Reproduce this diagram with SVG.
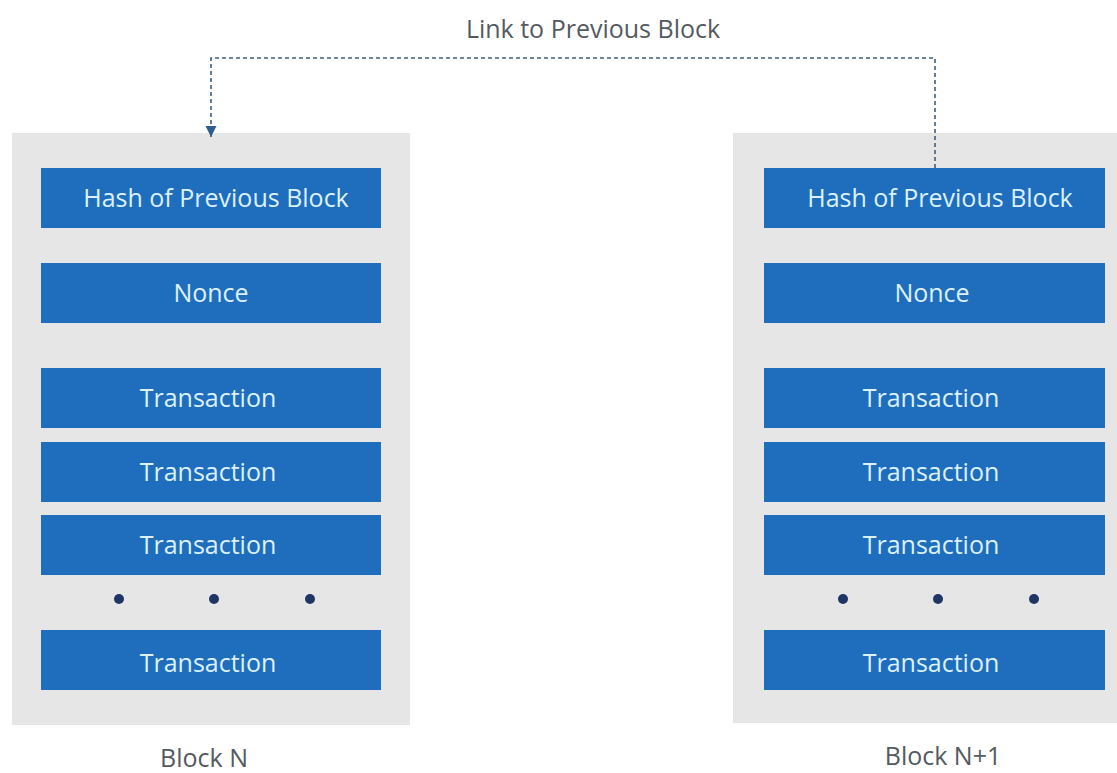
<svg xmlns="http://www.w3.org/2000/svg" width="1117" height="773" viewBox="0 0 1117 773">
  <style>
    .panel { fill: #e6e6e7; }
    .field { fill: #1f6ebd; }
    .field-label { font-family: "Open Sans", "Noto Sans", sans-serif; font-size: 25px; fill: #dcf1fb; text-anchor: middle; }
    .caption { font-family: "Open Sans", "Noto Sans", sans-serif; font-size: 25px; fill: #555a60; text-anchor: middle; }
    .dot { fill: #1e3565; }
    .link { fill: none; stroke: #3d5f80; stroke-width: 1.6; stroke-dasharray: 4 3; }
  </style>
  <defs>
    <marker id="arrow" viewBox="0 0 10 10" refX="10" refY="5" markerWidth="11" markerHeight="11" markerUnits="userSpaceOnUse" orient="auto">
      <path d="M0,0 L10,5 L0,10 Z" fill="#2c5f8f"/>
    </marker>
  </defs>
  <rect width="1117" height="773" fill="#ffffff"/>

  <!-- Block N -->
  <g id="block-n">
    <rect class="panel" x="12" y="133" width="398" height="592"/>
    <g id="block-n-hash"><rect class="field" x="41" y="168" width="340" height="60"/><text class="field-label" x="216" y="207">Hash of Previous Block</text></g>
    <g id="block-n-nonce"><rect class="field" x="41" y="263" width="340" height="60"/><text class="field-label" x="211" y="302">Nonce</text></g>
    <g id="block-n-tx1"><rect class="field" x="41" y="368" width="340" height="60"/><text class="field-label" x="208" y="407">Transaction</text></g>
    <g id="block-n-tx2"><rect class="field" x="41" y="442" width="340" height="60"/><text class="field-label" x="208" y="481">Transaction</text></g>
    <g id="block-n-tx3"><rect class="field" x="41" y="515" width="340" height="60"/><text class="field-label" x="208" y="554">Transaction</text></g>
    <circle class="dot" cx="119" cy="599" r="5"/>
    <circle class="dot" cx="214" cy="599" r="5"/>
    <circle class="dot" cx="310" cy="599" r="5"/>
    <g id="block-n-txn"><rect class="field" x="41" y="630" width="340" height="60"/><text class="field-label" x="208" y="672">Transaction</text></g>
    <text class="caption" x="204" y="767">Block N</text>
  </g>

  <!-- Block N+1 -->
  <g id="block-n1">
    <rect class="panel" x="733" y="133" width="384" height="590"/>
    <g id="block-n1-hash"><rect class="field" x="764" y="168" width="341" height="60"/><text class="field-label" x="940" y="207">Hash of Previous Block</text></g>
    <g id="block-n1-nonce"><rect class="field" x="764" y="263" width="341" height="60"/><text class="field-label" x="932" y="302">Nonce</text></g>
    <g id="block-n1-tx1"><rect class="field" x="764" y="368" width="341" height="60"/><text class="field-label" x="931" y="407">Transaction</text></g>
    <g id="block-n1-tx2"><rect class="field" x="764" y="442" width="341" height="60"/><text class="field-label" x="931" y="481">Transaction</text></g>
    <g id="block-n1-tx3"><rect class="field" x="764" y="515" width="341" height="60"/><text class="field-label" x="931" y="554">Transaction</text></g>
    <circle class="dot" cx="843" cy="599" r="5"/>
    <circle class="dot" cx="938" cy="599" r="5"/>
    <circle class="dot" cx="1034" cy="599" r="5"/>
    <g id="block-n1-txn"><rect class="field" x="764" y="630" width="341" height="60"/><text class="field-label" x="931" y="672">Transaction</text></g>
    <text class="caption" x="943" y="765">Block N+1</text>
  </g>

  <!-- Hash pointer from Block N+1 back to Block N -->
  <g id="connectors">
    <path class="link" d="M935,168 L935,58 L211,58 L211,137" marker-end="url(#arrow)"/>
    <text class="caption" x="593" y="38">Link to Previous Block</text>
  </g>
</svg>
